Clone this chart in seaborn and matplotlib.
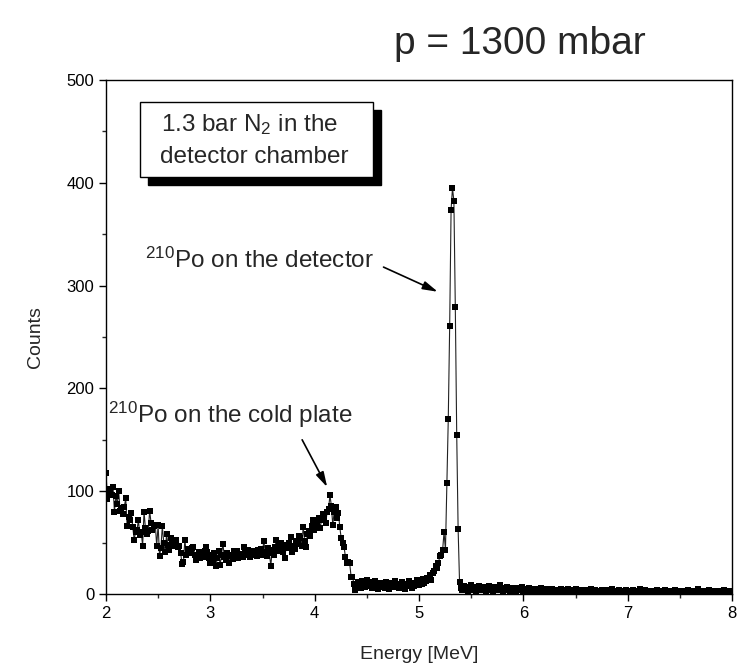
import numpy as np
import pandas as pd
import seaborn as sns
import matplotlib.pyplot as plt
from matplotlib.patches import Rectangle
from matplotlib.ticker import MultipleLocator

# MCA channel calibration (first channel shown, width of one channel)
E_START = 2.0
E_STEP = 0.0135

# counts, channel by channel
# 2.0 - 5.17 MeV: falling background + 210Po from the cold plate
counts_background = [
    118, 92, 98, 102, 96, 104, 80, 95, 88, 100,
    81, 84, 78, 85, 93, 66, 75, 72, 79, 65,
    53, 60, 62, 72, 57, 60, 47, 80, 64, 58,
    61, 81, 69, 62, 66, 67, 47, 67, 37, 45,
    66, 50, 41, 58, 48, 43, 54, 50, 47, 52,
    53, 46, 47, 40, 29, 31, 53, 38, 44, 43,
    40, 45, 46, 38, 33, 36, 41, 35, 38, 36,
    42, 46, 41, 35, 30, 38, 33, 40, 27, 35,
    42, 28, 38, 49, 36, 33, 40, 30, 37, 38,
    34, 42, 36, 42, 35, 38, 39, 36, 46, 40,
    38, 43, 36, 40, 42, 38, 41, 37, 43, 40,
    44, 38, 52, 41, 37, 45, 40, 27, 43, 38,
    46, 53, 42, 47, 50, 44, 41, 35, 48, 45,
    50, 55, 41, 47, 44, 52, 49, 56, 54, 47,
    65, 52, 46, 58, 61, 56, 66, 72, 62, 68,
    70, 74, 64, 72, 78, 75, 69, 80, 83, 96,
    86, 67, 80, 85, 74, 79, 65, 54, 50, 46,
    36, 30, 31, 30, 17, 17, 10, 4, 7, 12,
    10, 6, 13, 9, 7, 14, 11, 8, 12, 6,
    10, 13, 8, 5, 9, 11, 7, 10, 6, 12,
    8, 5, 9, 11, 7, 13, 8, 10, 6, 9,
    12, 7, 5, 10, 8, 13, 9, 6, 11, 8,
    10, 14, 9, 12, 10, 15, 11, 13, 16, 14,
    18, 14, 20, 22, 27, 25,
]
# 5.19 - 5.39 MeV: 210Po on the detector
counts_peak = [30, 37, 38, 43, 60, 43, 108, 170, 261, 374, 395, 382, 279, 155, 63, 12]
# 5.40 - 8.0 MeV: tail
counts_tail = [
    6, 4, 8, 5, 7, 3, 6, 9, 4, 5, 7, 3, 6, 8, 5, 4, 7, 6, 3,
    5, 8, 4, 6, 3, 7, 5, 4, 6, 9, 5, 3, 6, 4, 7, 5, 3, 6, 4, 5,
    3, 6, 4, 5, 7, 3, 4, 5, 2, 6, 4, 3, 5, 4, 2, 5, 3, 4, 6, 3,
    4, 2, 5, 3, 4, 3, 5, 2, 4, 3, 2, 4, 5, 3, 2, 4, 3, 5, 2, 3,
    4, 2, 3, 5, 3, 2, 4, 3, 2, 3, 4, 2, 3, 5, 2, 3, 4, 2, 3, 2,
    3, 4, 2, 3, 2, 4, 3, 2, 5, 3, 2, 3, 2, 4, 3, 2, 3, 2, 4, 2,
    3, 2, 3, 4, 2, 3, 2, 3, 5, 2, 3, 2, 4, 2, 3, 2, 3, 2, 2, 3,
    4, 2, 3, 2, 3, 2, 4, 3, 2, 3, 2, 2, 3, 4, 2, 3, 2, 3, 2, 2,
    3, 2, 4, 2, 3, 2, 2, 3, 2, 5, 3, 2, 2, 3, 2, 3, 2, 4, 2, 3,
    2, 3, 2, 2, 3, 2, 3, 2, 4, 2, 3, 2, 2, 3,
]

x_ticks = [2, 3, 4, 5, 6, 7, 8]
y_ticks = [0, 100, 200, 300, 400, 500]


def build_spectrum() -> pd.DataFrame:
    counts = counts_background + counts_peak + counts_tail
    energy = E_START + E_STEP * np.arange(len(counts))
    return pd.DataFrame({"energy": energy, "counts": counts})


def main():
    sns.set_style("ticks")
    plt.rcParams["font.family"] = ["Liberation Sans", "DejaVu Sans"]
    plt.rcParams["mathtext.default"] = "regular"

    df = build_spectrum()

    W, H = 738, 670
    fig = plt.figure(figsize=(W / 100, H / 100), dpi=100)
    ax = fig.add_axes([106 / W, 1 - 594 / H, 626 / W, 514 / H])

    sns.lineplot(data=df, x="energy", y="counts", ax=ax, estimator=None, sort=False,
                 color="#222222", linewidth=0.8, marker="s", markersize=4.0,
                 markerfacecolor="black", markeredgecolor="black", markeredgewidth=0)

    ax.set_xlim(2, 8)
    ax.set_ylim(0, 500)
    ax.set_xticks(x_ticks)
    ax.set_yticks(y_ticks)
    ax.xaxis.set_minor_locator(MultipleLocator(0.5))
    ax.yaxis.set_minor_locator(MultipleLocator(50))
    ax.tick_params(which="major", direction="out", length=5, width=1, labelsize=12, colors="black")
    ax.tick_params(which="minor", direction="out", length=3, width=1)
    for s in ax.spines.values():
        s.set_linewidth(1)
        s.set_color("black")

    ax.set_xlabel("Energy [MeV]", fontsize=14, labelpad=18)
    ax.set_ylabel("Counts", fontsize=14, labelpad=16)

    fig.text(520 / W, 1 - 44 / H, "p = 1300 mbar", fontsize=28, ha="center", va="center")

    # info box with drop shadow
    bx, by, bw, bh, off = 140, 177, 233, 75, 8
    fig.patches.append(Rectangle(((bx + off) / W, 1 - (by + off) / H), bw / W, bh / H,
                                 transform=fig.transFigure, facecolor="black", edgecolor="black"))
    fig.patches.append(Rectangle((bx / W, 1 - by / H), bw / W, bh / H,
                                 transform=fig.transFigure, facecolor="white",
                                 edgecolor="black", linewidth=1))
    fig.text(250 / W, 1 - 131 / H, "1.3 bar N$_2$ in the", fontsize=17.5, ha="center", va="baseline")
    fig.text(254 / W, 1 - 163 / H, "detector chamber", fontsize=17.5, ha="center", va="baseline")

    # peak labels
    arrow = dict(arrowstyle="-|>,head_length=0.9,head_width=0.25", color="black", lw=1.2,
                 shrinkA=0, shrinkB=0)
    ax.text(2.37, 317, "$^{210}$Po on the detector", fontsize=17.5, va="baseline")
    ax.annotate("", xy=(5.18, 294), xytext=(4.66, 318), arrowprops=arrow)
    ax.text(2.02, 166, "$^{210}$Po on the cold plate", fontsize=17.5, va="baseline")
    ax.annotate("", xy=(4.12, 104), xytext=(3.88, 150), arrowprops=arrow)

    fig.savefig("out.png", dpi=100)
    plt.close(fig)


if __name__ == "__main__":
    main()
